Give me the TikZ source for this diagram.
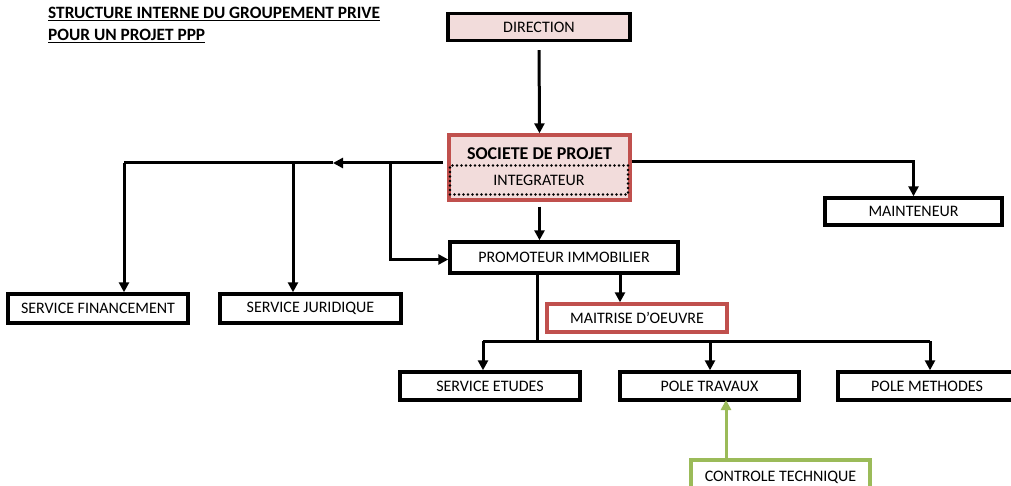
\documentclass[tikz,border=0pt]{standalone}
\usepackage{fontspec}
\setmainfont{Carlito}
\usetikzlibrary{arrows.meta}
\definecolor{pinkfill}{HTML}{F2DCDB}
\definecolor{redline}{HTML}{C0504D}
\definecolor{greenline}{HTML}{9BBB59}
\tikzset{
  box/.style={draw=black, line width=3.4pt, rectangle, inner sep=0pt,
    minimum width=180pt, minimum height=28pt, font=\fontsize{16}{17}\selectfont},
  redbox/.style={box, draw=redline},
  greenbox/.style={box, draw=greenline},
  dotbox/.style={draw=black, line width=2.6pt, line cap=round, dash pattern=on 0pt off 4.5pt,
    rectangle, inner sep=0pt, font=\fontsize{16}{17}\selectfont},
  arr/.style={line width=3pt, -{Triangle[length=10pt,width=10pt]}},
  plain/.style={line width=3pt}
}
\begin{document}
\begin{tikzpicture}[x=1pt,y=-1pt]
        \useasboundingbox (0,0) rectangle (1011,486);
        \clip (0,0) rectangle (1011,486);

        % Title
        \node[anchor=west, align=left, font=\bfseries\fontsize{17.3}{22}\selectfont, inner sep=0pt] (title) at (48,25)
          {\underline{STRUCTURE INTERNE DU GROUPEMENT PRIVE}\\\underline{POUR UN PROJET PPP}};

        % Top of the group
        \node[box, fill=pinkfill, minimum width=182pt, minimum height=27pt] (dir) at (539,27) {DIRECTION};
        \node[redbox, fill=pinkfill, minimum width=181pt, minimum height=65pt] (soc) at (539.5,167.5) {};
        \node[font=\bfseries\fontsize{18}{20}\selectfont] (socname) at (539.5,154) {SOCIETE DE PROJET};
        \node[dotbox, minimum width=178pt, minimum height=29pt] (integ) at (539,180) {INTEGRATEUR};

        % Second level
        \node[box, minimum width=228pt, minimum height=31pt] (prom) at (564,257.5) {PROMOTEUR IMMOBILIER};
        \node[box, minimum width=177pt, minimum height=27pt] (maint) at (913.5,211.5) {MAINTENEUR};
        \node[box, minimum width=180pt, minimum height=29pt] (fin) at (98,308.5) {SERVICE FINANCEMENT};
        \node[box, minimum width=181pt, minimum height=29pt] (jur) at (310.5,308.5) {SERVICE JURIDIQUE};
        \node[redbox, minimum width=180pt] (moe) at (637,318) {MAITRISE D’OEUVRE};

        % Third level
        \node[box] (etu) at (490,386) {SERVICE ETUDES};
        \node[box, minimum width=179pt] (trav) at (709.5,386) {POLE TRAVAUX};
        \node[box, minimum width=178pt] (meth) at (927,386) {POLE METHODES};
        \node[greenbox, minimum width=179pt, minimum height=34pt] (ctrl) at (780.5,477) {CONTROLE TECHNIQUE};

        % Define branch points
        \coordinate (sw) at (443,163);
        \coordinate (lt) at (333,163);
        \coordinate (lf) at (124,163);
        \coordinate (lj) at (293,163);
        \coordinate (lp) at (390,163);
        \coordinate (pm) at (620,273);
        \coordinate (bm) at (537,341);
        \coordinate (be) at (483,341);
        \coordinate (bt) at (710,341);
        \coordinate (bh) at (930,341);
        \coordinate (ct) at (726,400);

        % Connectors
        \draw[arr, shorten <=8pt] (dir.south) -- (soc.north);
        \draw[arr, shorten <=5pt] (soc.south) -- (soc.south |- prom.north);
        \draw[arr] (sw) -- (lt);
        \draw[plain] (lt) -- (lf);
        \draw[arr] (lf) -- (lf |- fin.north);
        \draw[arr] (lj) -- (lj |- jur.north);
        \draw[arr] (lp) |- ([yshift=-2pt]prom.west);
        \draw[arr] ([yshift=1pt]soc.east |- sw) -| (maint.north);
        \draw[arr] (pm) -- (pm |- moe.north);
        \draw[plain] (prom.south -| bm) -- (bm);
        \draw[plain] (be) -- (bh);
        \draw[arr] (be) -- (be |- etu.north);
        \draw[arr] (bt) -- (bt |- trav.north);
        \draw[arr] (bh) -- (bh |- meth.north);
        \draw[arr, greenline] (ct |- ctrl.north) -- (ct);
\end{tikzpicture}
\end{document}
